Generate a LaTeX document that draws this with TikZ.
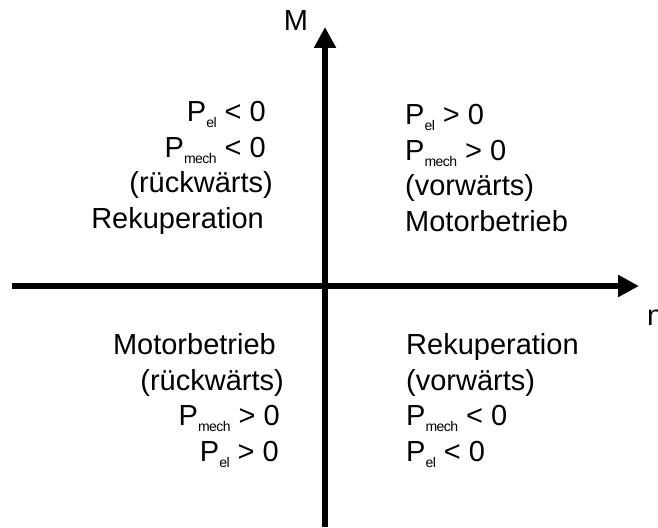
\documentclass[tikz,border=0pt]{standalone}
\usepackage{fontspec}
\setmainfont{Liberation Sans}
\usetikzlibrary{arrows.meta}
\newcommand{\Psub}[1]{P\raisebox{-6pt}{\fontsize{14}{14}\selectfont\addfontfeatures{LetterSpace=-4}#1}}

\begin{document}
\begin{tikzpicture}[x=1pt, y=-1pt,
  axis/.style={line width=5.5pt, -{Triangle[length=21pt, width=21pt]}},
  quad/.style={inner sep=0pt, font=\fontsize{29}{35.5}\selectfont},
  lbl/.style={inner sep=0pt, font=\fontsize{29}{35}\selectfont}
]
\useasboundingbox (0,0) rectangle (658,527);
% axes
\coordinate (left) at (12,286);
\coordinate (right) at (639,286);
\coordinate (bottom) at (325,527);
\coordinate (top) at (325,27);
\draw[axis] (left) -- (right);
\draw[axis] (bottom) -- (top);
\node[lbl, anchor=base] (mlabel) at (296,31) {M};
\node[lbl, anchor=base west] (nlabel) at (647,325) {n};

% quadrants (base = last line)
\node[quad, anchor=base west, align=left] (q1) at (405,231)
  {\Psub{el} > 0\\ \Psub{mech} > 0\\ (vorwärts)\\ Motorbetrieb};
\node[quad, anchor=base east, align=right] (q2) at (266,228)
  {\Psub{el} < 0\\ \Psub{mech} < 0\\ (rückwärts)\kern-7pt\\ Rekuperation\kern2pt};
\node[quad, anchor=base east, align=right] (q3) at (279,461)
  {Motorbetrieb\kern3pt\\ (rückwärts)\kern-5pt\\ \Psub{mech} > 0\kern-1pt\\ \Psub{el} > 0};
\node[quad, anchor=base west, align=left] (q4) at (406,461)
  {Rekuperation\\ (vorwärts)\\ \Psub{mech} < 0\\ \Psub{el} < 0};
\end{tikzpicture}
\end{document}
